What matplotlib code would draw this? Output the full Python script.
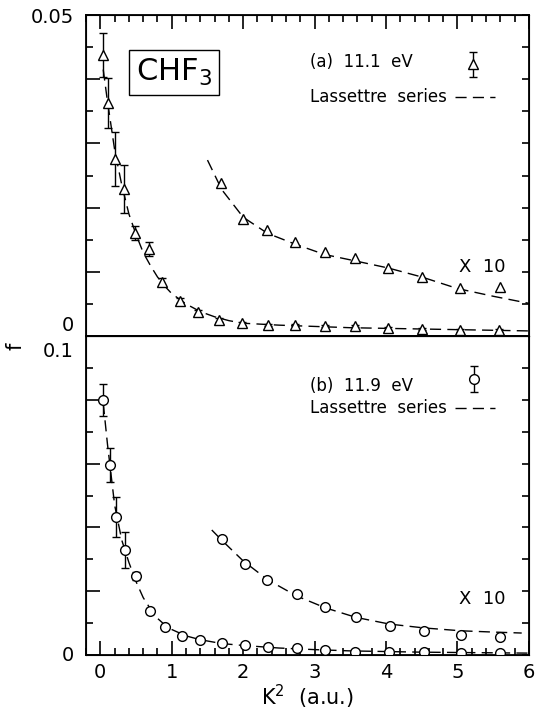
import numpy as np
import matplotlib
matplotlib.use("Agg")
import matplotlib.pyplot as plt
from matplotlib.ticker import MultipleLocator, NullFormatter

# datos panel (a) 11.1 eV
xa = [0.04, 0.10, 0.21, 0.33, 0.49, 0.68, 0.87, 1.12, 1.37, 1.66, 1.99, 2.35, 2.73, 3.15, 3.57, 4.03, 4.50, 5.03, 5.58]
fa = [0.0438, 0.0363, 0.0276, 0.0229, 0.0160, 0.0136, 0.0084, 0.0055, 0.0037, 0.0025, 0.0020, 0.0017, 0.0017, 0.0016, 0.0016, 0.0012, 0.0011, 0.0009, 0.0009]
ea = [0.0034, 0.0039, 0.0042, 0.0038, 0.0011, 0.0011, 0.0006, 0.0004, 0.0003, 0.0003, 0.0002, 0.0002, 0.0002, 0.0002, 0.0002, 0.0002, 0.0002, 0.0002, 0.0002]
xa10 = [1.69, 2.00, 2.34, 2.73, 3.14, 3.57, 4.03, 4.50, 5.03, 5.59]
fa10 = [0.0238, 0.0182, 0.0165, 0.0146, 0.0131, 0.0122, 0.0106, 0.0092, 0.0075, 0.0077]
# curva Lassettre (a)
la_x = [0.04, 0.1, 0.2, 0.3, 0.4, 0.5, 0.6, 0.7, 0.8, 0.9, 1.0, 1.2, 1.4, 1.6, 1.8, 2.0, 2.5, 3.0, 3.5, 4.0, 4.5, 5.0, 5.5, 6.0]
la_f = [0.0415, 0.0365, 0.0290, 0.0235, 0.0190, 0.0158, 0.0130, 0.0110, 0.0092, 0.0078, 0.0066, 0.0050, 0.0038, 0.0030, 0.0024, 0.0020, 0.0017, 0.0015, 0.0013, 0.0012, 0.0011, 0.0010, 0.0009, 0.0008]
la10_x = [1.5, 1.7, 2.0, 2.34, 2.73, 3.14, 3.57, 4.03, 4.5, 5.0, 5.5, 6.0]
la10_f = [0.0274, 0.0228, 0.0185, 0.0160, 0.0143, 0.0127, 0.0117, 0.0106, 0.0092, 0.0074, 0.0062, 0.0051]

# datos panel (b) 11.9 eV
xb = [0.04, 0.13, 0.22, 0.35, 0.50, 0.69, 0.90, 1.14, 1.40, 1.70, 2.02, 2.35, 2.75, 3.15, 3.57, 4.04, 4.53, 5.05, 5.60]
fb = [0.0800, 0.0595, 0.0432, 0.0329, 0.0248, 0.0138, 0.0088, 0.0060, 0.0047, 0.0038, 0.0031, 0.0025, 0.0022, 0.0016, 0.0010, 0.0010, 0.0009, 0.0007, 0.0006]
eb = [0.0050, 0.0054, 0.0063, 0.0056, 0.0013, 0.0010, 0.0006, 0.0005, 0.0004, 0.0004, 0.0004, 0.0004, 0.0004, 0.0004, 0.0004, 0.0004, 0.0004, 0.0004, 0.0004]
xb10 = [1.70, 2.02, 2.34, 2.75, 3.15, 3.58, 4.05, 4.53, 5.05, 5.60]
fb10 = [0.0364, 0.0285, 0.0235, 0.0191, 0.0150, 0.0120, 0.0091, 0.0075, 0.0063, 0.0056]
lb_x = [0.04, 0.1, 0.2, 0.3, 0.4, 0.5, 0.6, 0.7, 0.8, 0.9, 1.0, 1.2, 1.4, 1.6, 1.8, 2.0, 2.5, 3.0, 3.5, 4.0, 4.5, 5.0, 5.5, 6.0]
lb_f = [0.0790, 0.0660, 0.0470, 0.0360, 0.0290, 0.0230, 0.0180, 0.0145, 0.0115, 0.0095, 0.0080, 0.0060, 0.0048, 0.0040, 0.0034, 0.0030, 0.0022, 0.0017, 0.0013, 0.0011, 0.0009, 0.0008, 0.0007, 0.0006]
lb10_x = [1.56, 1.7, 2.0, 2.35, 2.75, 3.15, 3.58, 4.05, 4.53, 5.05, 5.5, 5.9]
lb10_f = [0.0392, 0.0360, 0.0295, 0.0235, 0.0185, 0.0148, 0.0118, 0.0097, 0.0085, 0.0076, 0.0072, 0.0069]

dash = (0, (8, 4.5))
fig = plt.figure(figsize=(5.38, 7.12), dpi=100)
ax1 = fig.add_axes([0.160, 0.528, 0.823, 0.451])
ax2 = fig.add_axes([0.160, 0.080, 0.823, 0.448])

for ax in (ax1, ax2):
    ax.set_xlim(-0.2, 6)
    ax.xaxis.set_major_locator(MultipleLocator(1))
    ax.xaxis.set_minor_locator(MultipleLocator(0.2))
    ax.yaxis.set_major_formatter(NullFormatter())
    for s in ax.spines.values():
        s.set_linewidth(1.3)
    ax.tick_params(which="both", direction="in", width=1.2, left=True, right=False)
    ax.tick_params(which="major", length=10)
    ax.tick_params(which="minor", length=5)

def ylab(ax, texto, yfrac, dy, va):
    # etiqueta del eje y puesta a mano (separadas entre paneles)
    ax.annotate(texto, xy=(0, yfrac), xycoords="axes fraction", xytext=(-9, dy),
                textcoords="offset points", ha="right", va=va, fontsize=14)

# panel (a)
ax1.set_ylim(0, 0.05)
ax1.yaxis.set_major_locator(MultipleLocator(0.01))
ax1.yaxis.set_minor_locator(MultipleLocator(0.005))
ax1.tick_params(which="both", top=True, bottom=False, labelbottom=False, labeltop=False)
ylab(ax1, "0.05", 1.0, -2, "center")
ylab(ax1, "0", 0.0, 1, "bottom")

ax1r = ax1.twinx()
ax1r.set_ylim(0, 0.05)
ax1r.yaxis.set_major_locator(MultipleLocator(0.005))
ax1r.tick_params(direction="in", width=1.2, length=5, labelright=False)

ax1.errorbar(xa, fa, yerr=ea, fmt="^", mfc="white", mec="black", color="black",
             ms=7.5, mew=1.0, elinewidth=1.0, capsize=3, zorder=3)
ax1.plot(xa10, fa10, "^", mfc="white", mec="black", ms=7.5, mew=1.0, zorder=3)
ax1.plot(la_x, la_f, color="black", lw=1.0, linestyle=dash)
ax1.plot(la10_x, la10_f, color="black", lw=1.0, linestyle=dash)

ax1.text(1.03, 0.041, "CHF$_3$", fontsize=22, ha="center", va="center",
         bbox=dict(boxstyle="square,pad=0.22", fc="white", ec="black", lw=1.0))
ax1.text(2.94, 0.0426, "(a)  11.1  eV", fontsize=12, va="center")
ax1.text(2.94, 0.0373, "Lassettre  series", fontsize=12, va="center")
ax1.errorbar([5.22], [0.0423], yerr=[0.002], fmt="^", mfc="white", mec="black",
             color="black", ms=7.5, mew=1.0, elinewidth=1.0, capsize=3)
ax1.plot([4.97, 5.52], [0.0373, 0.0373], color="black", lw=1.0, linestyle=dash)
ax1.text(5.02, 0.0107, "X  10", fontsize=13, va="center")

# panel (b)
ax2.set_ylim(0, 0.1)
ax2.yaxis.set_major_locator(MultipleLocator(0.02))
ax2.yaxis.set_minor_locator(MultipleLocator(0.01))
ax2.tick_params(which="both", top=False, bottom=True)
ax2.tick_params(axis="x", which="major", pad=6)
ylab(ax2, "0.1", 1.0, -4, "top")
ylab(ax2, "0", 0.0, 0, "center")
ax2.set_xticks([0, 1, 2, 3, 4, 5, 6])
ax2.set_xticklabels(["0", "1", "2", "3", "4", "5", "6"], fontsize=14)
ax2.set_xlabel("K$^2$  (a.u.)", fontsize=15, labelpad=0)

ax2r = ax2.twinx()
ax2r.set_ylim(0, 0.1)
ax2r.yaxis.set_major_locator(MultipleLocator(0.01))
ax2r.tick_params(direction="in", width=1.2, length=5, labelright=False)

ax2.errorbar(xb, fb, yerr=eb, fmt="o", mfc="white", mec="black", color="black",
             ms=7, mew=1.0, elinewidth=1.0, capsize=3, zorder=3)
ax2.plot(xb10, fb10, "o", mfc="white", mec="black", ms=7, mew=1.0, zorder=3)
ax2.plot(lb_x, lb_f, color="black", lw=1.0, linestyle=dash)
ax2.plot(lb10_x, lb10_f, color="black", lw=1.0, linestyle=dash)

ax2.text(2.94, 0.0845, "(b)  11.9  eV", fontsize=12, va="center")
ax2.text(2.94, 0.0775, "Lassettre  series", fontsize=12, va="center")
ax2.errorbar([5.23], [0.0865], yerr=[0.004], fmt="o", mfc="white", mec="black",
             color="black", ms=7, mew=1.0, elinewidth=1.0, capsize=3)
ax2.plot([4.97, 5.52], [0.0775, 0.0775], color="black", lw=1.0, linestyle=dash)
ax2.text(5.02, 0.0175, "X  10", fontsize=13, va="center")

fig.text(0.028, 0.513, "f", fontsize=15, rotation=90, ha="center", va="center")

plt.savefig("out.png", dpi=100)
